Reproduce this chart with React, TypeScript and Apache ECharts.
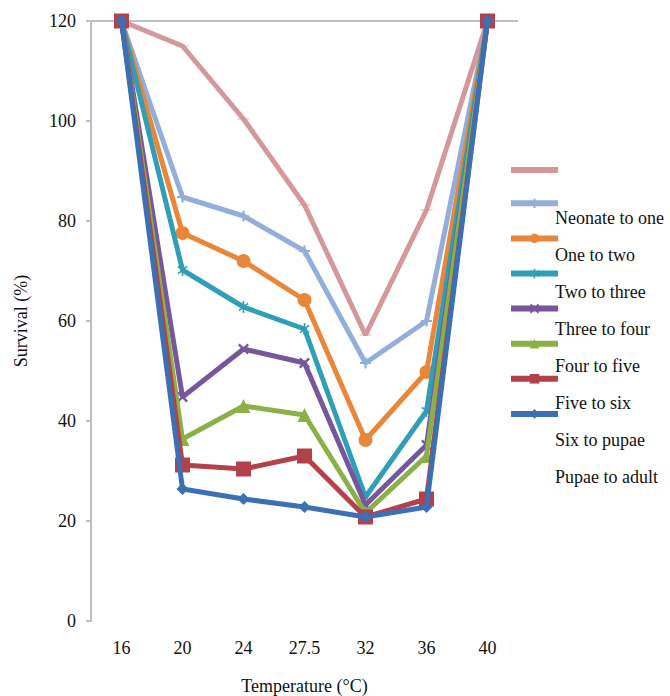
import React, { useEffect, useRef } from "react";
import * as echarts from "echarts";

const categories = ["16", "20", "24", "27.5", "32", "36", "40"];
const seriesNames = [
  "Neonate to one",
  "One to two",
  "Two to three",
  "Three to four",
  "Four to five",
  "Five to six",
  "Six to pupae",
  "Pupae to adult",
];
const neonateToOne = [120, 115, 100.4, 83.2, 57.2, 82.2, 120];
const oneToTwo = [120, 84.8, 81, 74, 51.6, 60, 120];
const twoToThree = [120, 77.6, 72, 64.2, 36.2, 49.8, 120];
const threeToFour = [120, 70.2, 62.8, 58.4, 24.8, 42, 120];
const fourToFive = [120, 44.8, 54.4, 51.6, 23.2, 35.2, 120];
const fiveToSix = [120, 36.4, 43, 41.2, 21.6, 33, 120];
const sixToPupae = [120, 31.2, 30.4, 33, 20.8, 24.4, 120];
const pupaeToAdult = [120, 26.4, 24.4, 22.8, 20.8, 22.8, 120];
const yTicks = { min: 0, max: 120, interval: 20 };

const colors = ["#D4979B", "#93AEDB", "#E8873A", "#2F9EB6", "#76579E", "#8CB046", "#B2414A", "#3C70B5"];

const DASH = "path://M0,0H12V3H0Z";
const BAR = "path://M0,0H47V6H0Z";
const PLUS = "path://M4,0H6V4H10V6H6V10H4V6H0V4H4Z";
const CROSS = "path://M1.5,0L5,3.5L8.5,0L10,1.5L6.5,5L10,8.5L8.5,10L5,6.5L1.5,10L0,8.5L3.5,5L0,1.5Z";
const STAR = "path://M4.3,0H5.7V3.3L8.5,1.5L9.2,2.7L6.4,4.3V5.7L9.2,7.3L8.5,8.5L5.7,6.7V10H4.3V6.7L1.5,8.5L0.8,7.3L3.6,5.7V4.3L0.8,2.7L1.5,1.5L4.3,3.3Z";

const symbols: any[] = [
  [DASH, [12, 3]],
  [PLUS, 11],
  ["circle", 14],
  [STAR, 12],
  [CROSS, 11],
  ["triangle", 14],
  ["rect", 15],
  ["diamond", 12],
];

export default function App() {
  const ref = useRef<HTMLDivElement>(null);
  useEffect(() => {
    document.body.style.margin = "0";
    const chart = echarts.init(ref.current!, undefined, { renderer: "svg" });
    const data = [neonateToOne, oneToTwo, twoToThree, threeToFour, fourToFive, fiveToSix, sixToPupae, pupaeToAdult];
    const font = "Times New Roman, serif";
    const fs = 18;
    const series: any[] = data.map((d, i) => ({
      name: seriesNames[i],
      type: "line",
      data: d,
      symbol: symbols[i][0],
      symbolSize: symbols[i][1],
      symbolKeepAspect: true,
      showAllSymbol: true,
      lineStyle: { color: colors[i], width: 5 },
      itemStyle: { color: colors[i] },
      z: 2 + i,
      ...(i === 0
        ? {
            markLine: {
              silent: true,
              symbol: "none",
              label: { show: false },
              lineStyle: { color: "#BFBFBF", width: 2, type: "solid" },
              data: [{ yAxis: yTicks.max }],
              z: 1,
            },
          }
        : {}),
    }));
    chart.setOption({
      animation: false,
      backgroundColor: "#ffffff",
      color: colors,
      textStyle: { fontFamily: font },
      grid: { left: 91, right: 152, top: 21, bottom: 75, outerBoundsMode: "none", containLabel: false },
      legend: {
        orient: "vertical",
        left: 503,
        top: 159,
        itemWidth: 47,
        itemHeight: 12,
        itemGap: 24.3,
        symbolKeepAspect: true,
        lineStyle: { width: 6 },
        itemStyle: { borderWidth: 0 },
        formatter: () => "",
        data: seriesNames.map((n, i) => (i === 0 ? { name: n, icon: BAR } : { name: n })),
      },
      graphic: seriesNames.map((n, i) => ({
        type: "text",
        left: 555,
        top: 209 + i * 37,
        style: { text: n, fontFamily: font, fontSize: fs, fill: "#111" },
      })),
      xAxis: {
        type: "category",
        data: categories,
        boundaryGap: true,
        axisLine: { show: false },
        axisTick: { show: false },
        axisLabel: { fontFamily: font, fontSize: fs, color: "#111", margin: 18 },
        name: "Temperature (°C)",
        nameLocation: "middle",
        nameGap: 56,
        nameTextStyle: { fontFamily: font, fontSize: fs, color: "#111" },
      },
      yAxis: {
        type: "value",
        min: yTicks.min,
        max: yTicks.max,
        interval: yTicks.interval,
        axisLine: { show: true, lineStyle: { color: "#BFBFBF", width: 2 } },
        axisTick: { show: true, length: 5, lineStyle: { color: "#BFBFBF", width: 2 } },
        splitLine: { show: false },
        axisLabel: { fontFamily: font, fontSize: fs, color: "#111", margin: 15 },
        name: "Survival (%)",
        nameLocation: "middle",
        nameGap: 61,
        nameTextStyle: { fontFamily: font, fontSize: fs, color: "#111" },
      },
      series,
    });
    return () => chart.dispose();
  }, []);
  return <div ref={ref} style={{ width: 670, height: 696 }} />;
}
